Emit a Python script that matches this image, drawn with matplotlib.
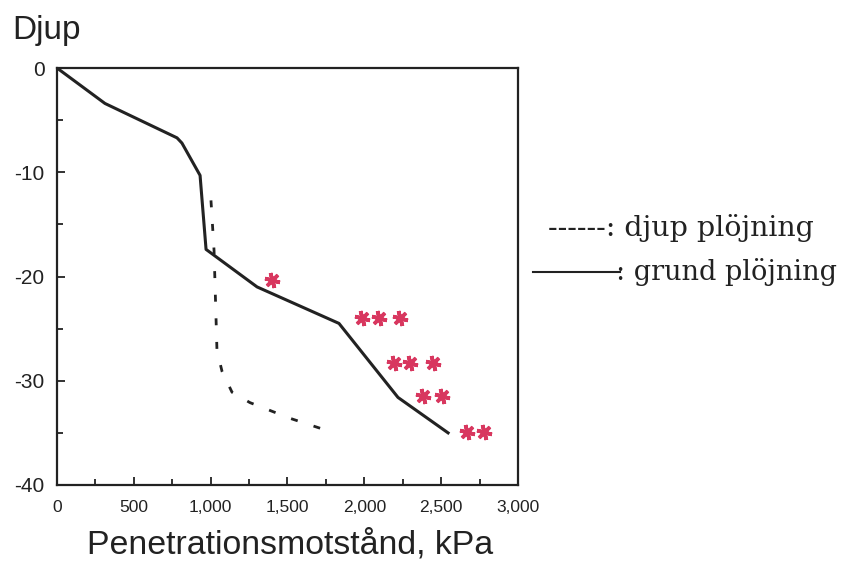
import matplotlib
matplotlib.use("Agg")
import matplotlib.pyplot as plt
from matplotlib.lines import Line2D
from matplotlib.ticker import FuncFormatter, MultipleLocator

# grund plöjning (solid)
grund_x = [0, 312, 781, 813, 931, 970, 1302, 1835, 2219, 2545]
grund_y = [0, -3.4, -6.7, -7.2, -10.3, -17.4, -21.0, -24.5, -31.6, -35.0]

# djup plöjning (dashed)
djup_x = [1002, 1022, 1041, 1074, 1139, 1256, 1516, 1783]
djup_y = [-12.7, -17.5, -27.1, -29.1, -31.1, -32.1, -33.6, -34.9]

# handritade stjärnor
star_x = [1399, 1985, 2096, 2232, 2193, 2297, 2447, 2382, 2505, 2668, 2778]
star_y = [-20.3, -24.0, -24.0, -24.0, -28.3, -28.3, -28.3, -31.5, -31.5, -34.9, -34.9]

fig = plt.figure(figsize=(8.54, 5.62), dpi=100)
ax = fig.add_axes([57 / 854, 1 - 485 / 562, 461 / 854, 417 / 562])

ax.plot(grund_x, grund_y, color="#222222", lw=2.2, solid_joinstyle="round")
ax.plot(djup_x, djup_y, color="#222222", lw=2.0, linestyle=(0, (2.5, 6)))
ax.plot(star_x, star_y, linestyle="none", marker=(6, 2, 15), markersize=11,
        markeredgewidth=2.6, color="#d8375f")

ax.set_xlim(0, 3000)
ax.set_ylim(-40, 0)
ax.xaxis.set_major_locator(MultipleLocator(500))
ax.xaxis.set_minor_locator(MultipleLocator(250))
ax.yaxis.set_major_locator(MultipleLocator(10))
ax.yaxis.set_minor_locator(MultipleLocator(5))
ax.xaxis.set_major_formatter(FuncFormatter(lambda v, p: f"{int(v):,}"))
ax.yaxis.set_major_formatter(FuncFormatter(lambda v, p: f"{int(v)}"))
ax.tick_params(which="both", direction="in", width=1.3, color="#222222")
ax.tick_params(which="major", length=6)
ax.tick_params(which="minor", length=4)
ax.tick_params(axis="x", labelsize=12.5, pad=11)
ax.tick_params(axis="y", labelsize=15, pad=9)
ax.tick_params(axis="x", which="both", top=False)
ax.tick_params(axis="y", which="both", right=False)
for s in ax.spines.values():
    s.set_linewidth(1.6)
    s.set_color("#222222")

for lbl in ax.get_xticklabels() + ax.get_yticklabels():
    lbl.set_family("Liberation Sans")
    lbl.set_color("#222222")

fig.text(12 / 854, 1 - 30 / 562, "Djup", fontsize=24, family="Liberation Sans",
         va="center", ha="left", color="#222222")
fig.text(290 / 854, 1 - 545 / 562, "Penetrationsmotstånd, kPa", fontsize=24.4,
         family="Liberation Sans", ha="center", va="center", color="#222222")

# legend written beside the chart
fig.text(548 / 854, 1 - 228 / 562, "------: djup plöjning", fontsize=20.5,
         family="DejaVu Serif", ha="left", va="center", color="#222222")
fig.add_artist(Line2D([533 / 854, 620 / 854], [1 - 272 / 562, 1 - 272 / 562],
                      color="#222222", lw=1.5))
fig.text(616 / 854, 1 - 272 / 562, ": grund plöjning", fontsize=19.5,
         family="DejaVu Serif", ha="left", va="center", color="#222222")

fig.savefig("out.png", dpi=100)
